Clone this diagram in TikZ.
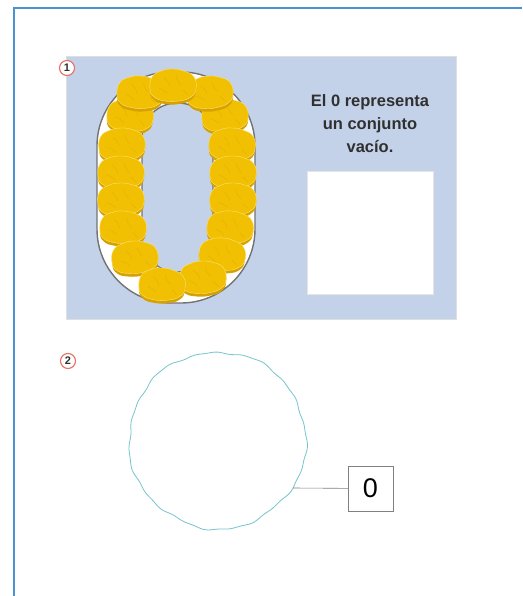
\documentclass[tikz,border=0pt]{standalone}
\usepackage{fontspec}
\setmainfont{Liberation Sans}
\usetikzlibrary{
    positioning,   % Relative positioning
    calc           % Coordinate calculations
}

\definecolor{frameblue}{RGB}{74,146,210}
\definecolor{panelblue}{RGB}{196,210,233}
\definecolor{nuggold}{RGB}{242,192,2}
\definecolor{nugdark}{RGB}{214,162,0}
\definecolor{nuglight}{RGB}{250,226,120}
\definecolor{setteal}{RGB}{118,196,204}
\definecolor{markred}{RGB}{234,112,98}
\definecolor{textgray}{RGB}{48,48,48}

\tikzset{
    % one gold nugget, centred on the pic origin
    nugget/.pic={
        \fill[nugdark] plot[smooth cycle, tension=0.8] coordinates
            {(-23,3) (-21,-9) (-12,-15) (-1,-17) (11,-15) (21,-9) (23,3) (18,12) (6,16) (-8,16) (-19,12)};
        \fill[nuggold, draw=nuglight, line width=0.4pt] plot[smooth cycle, tension=0.8] coordinates
            {(-23,1) (-21,-11) (-12,-17) (-1,-19) (11,-17) (21,-11) (23,1) (18,9) (6,13) (-8,13) (-19,9)};
        \draw[nugdark, line width=0.4pt, opacity=0.5]
            (-9,-10) to[bend left=20] (-3,-1)
            (3,-12) to[bend right=15] (8,-3)
            (-14,0) to[bend left=10] (-6,5)
            (10,2) to[bend right=10] (15,7);
    },
    marker/.style={circle, draw=markred, fill=white, line width=1.1pt, inner sep=0pt,
        minimum size=15pt, text=textgray, font=\bfseries\fontsize{11}{11}\selectfont},
    paneltext/.style={align=center, text=textgray,
        font=\bfseries\fontsize{16.5}{23}\selectfont},
    numbox/.style={draw=gray, fill=white, minimum width=45pt, minimum height=45pt,
        inner sep=0pt, font=\fontsize{27}{27}\selectfont}
}

\begin{document}
\begin{tikzpicture}[x=1pt, y=-1pt]
    \useasboundingbox (0,0) rectangle (522,596);
    \fill[white] (0,0) rectangle (522,596);

    % outer frame
    \draw[frameblue, line width=2pt] (14,596) -- (14,8) -- (522,8);

    % first panel
    \draw[gray!25, fill=panelblue] (66,56) rectangle (456,319);
    \node[marker] (mark1) at (67,68) {1};

    % the digit zero
    \draw[gray!90!black, line width=1.4pt, fill=white]
        (97,72) [rounded corners=74pt] rectangle (255,303);
    \draw[gray!90!black, line width=1.4pt, fill=panelblue]
        (142,103) [rounded corners=35pt] rectangle (213,272);

    % nuggets round the zero
    \foreach \px/\py/\rt in {130/118/-4, 122/147/2, 121/175/0, 121/202/3, 123/230/-2, 135/260/4,
                             225/118/3, 232/147/-2, 233/175/0, 233/202/2, 230/230/-3, 222/257/-4,
                             203/280/3, 162/287/-2, 140/95/-3, 210/95/4, 173/88/0}
        \pic[rotate=\rt] at (\px,\py) {nugget};

    \node[paneltext] (caption) at (370,124) {El 0 representa\\un conjunto\\vacío.};
    \node[draw=gray!20, fill=white, minimum width=126pt, minimum height=123pt, inner sep=0pt]
        (answer) at (370,233) {};

    % second panel: the empty set
    \node[marker] (mark2) at (68,361) {2};
    \draw[setteal, line width=0.8pt] plot[smooth cycle, domain=0:357, samples=120]
        ({217.5+(88.5+0.9*sin(5*\x+20)+0.7*sin(11*\x+70)+0.5*sin(23*\x))*cos(\x)},
         {440.5+(88.5+0.9*sin(5*\x+20)+0.7*sin(11*\x+70)+0.5*sin(23*\x))*sin(\x)});
    \coordinate (setedge) at (293,488);
    \node[numbox] (zero) at (370.5,488.5) {0};
    \draw[gray, line width=0.6pt] (setedge) -- (zero);
\end{tikzpicture}
\end{document}
